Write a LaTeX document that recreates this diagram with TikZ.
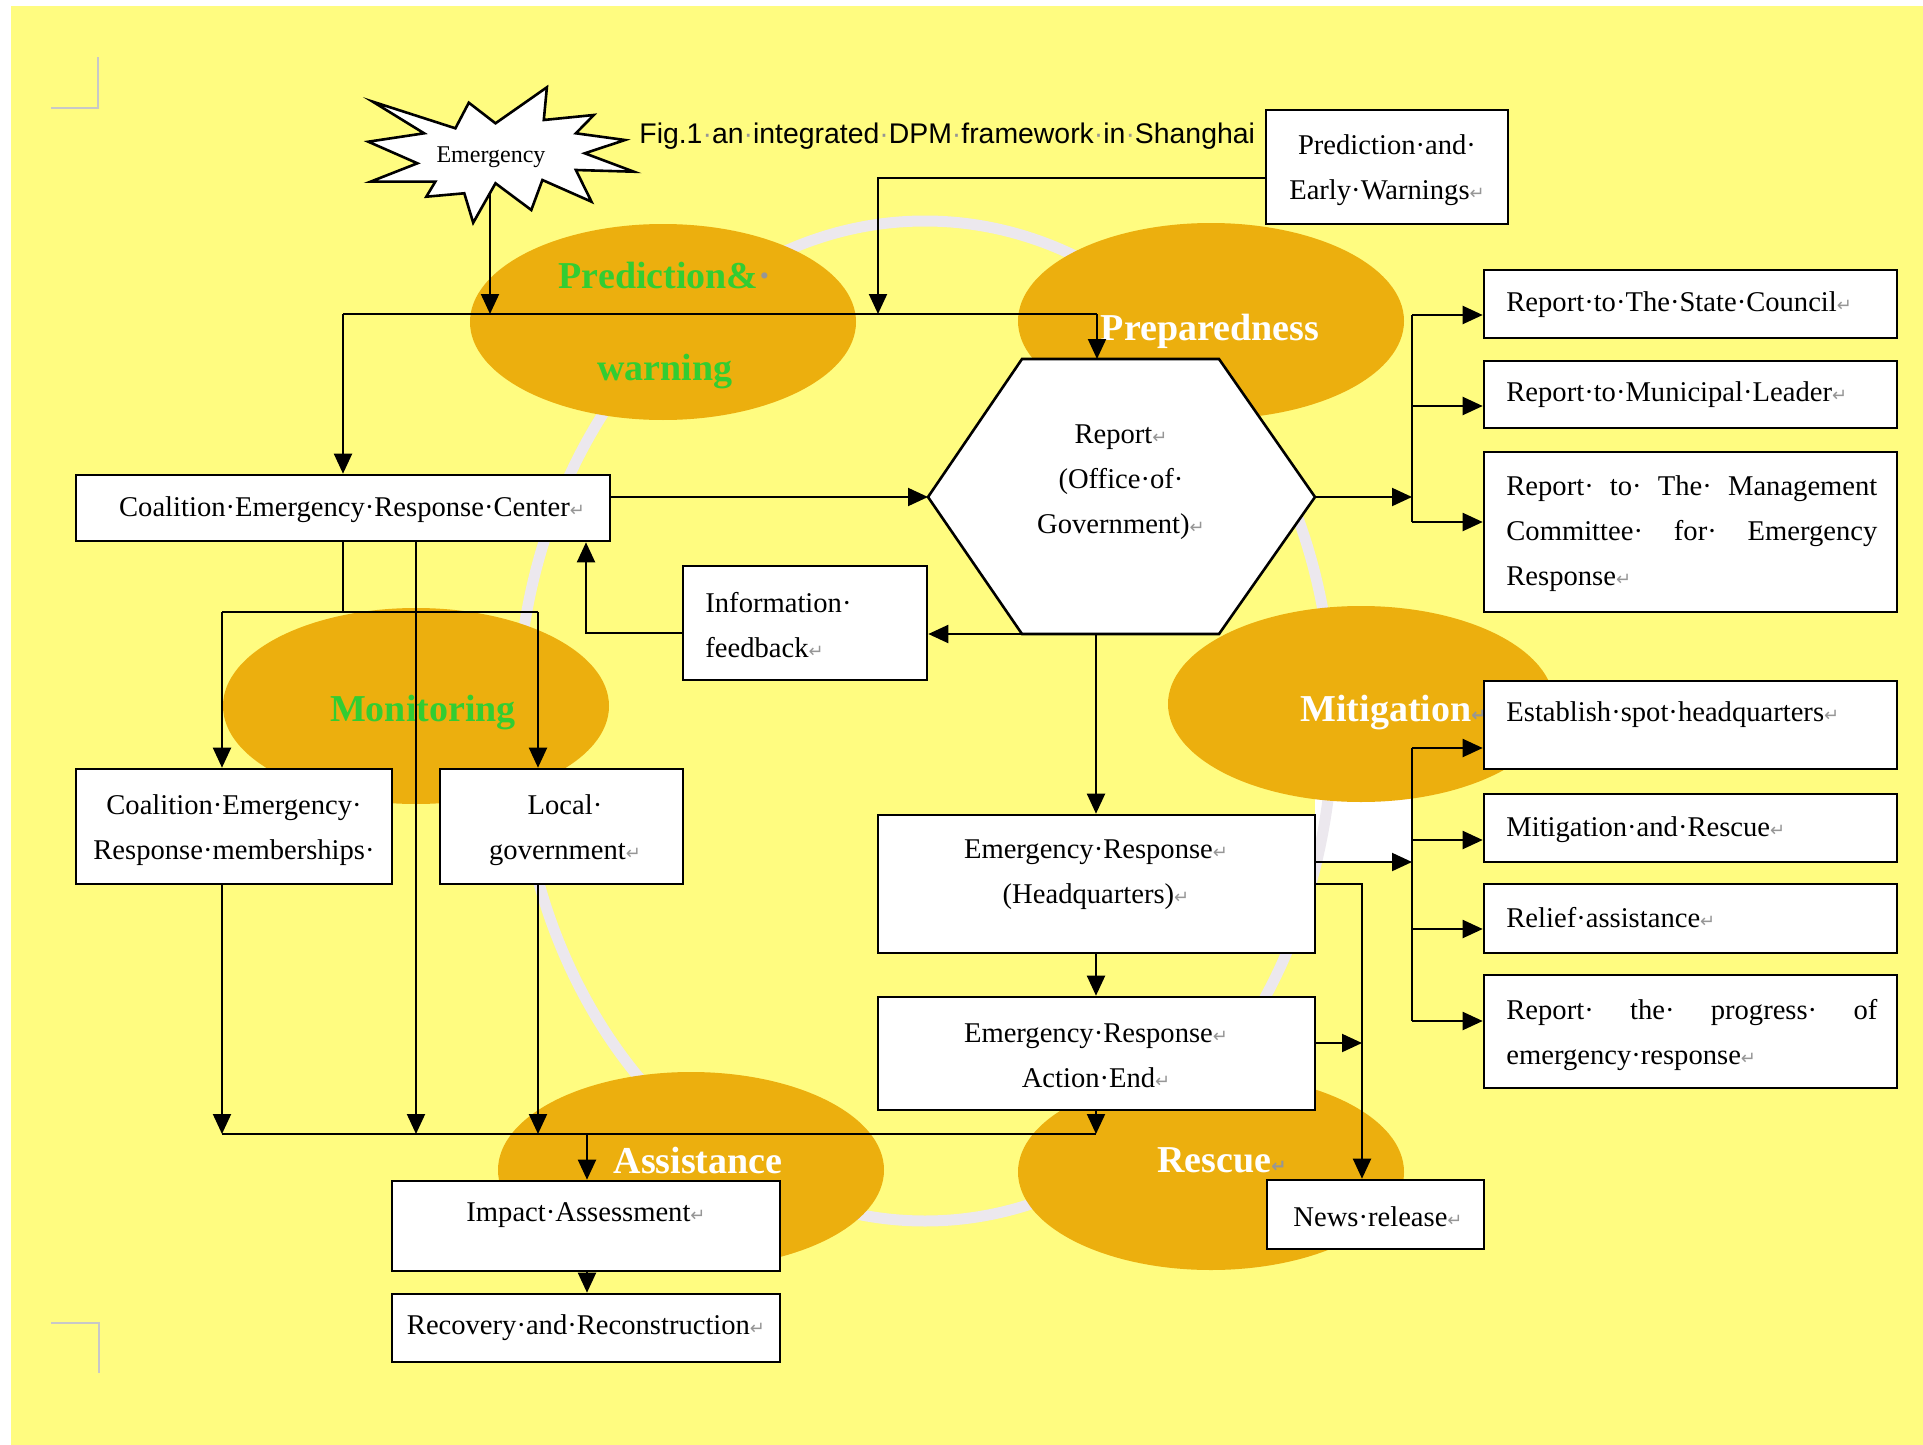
\documentclass[tikz,border=0pt]{standalone}
\usepackage{fontspec}
\setmainfont{Liberation Serif}
\newfontfamily\capfont{Liberation Sans}
\newfontfamily\symf{DejaVu Sans}
\usetikzlibrary{arrows.meta,shapes.geometric,fit}
\definecolor{bgyellow}{RGB}{255,252,128}
\definecolor{phase}{RGB}{236,175,14}
\definecolor{phasegreen}{RGB}{50,205,50}
\definecolor{ringgray}{RGB}{236,232,238}
\definecolor{markgray}{RGB}{150,150,150}
\definecolor{cropgray}{RGB}{200,200,200}
% paragraph mark and visible-space dot
\newcommand\pmk{{\symf\fontsize{9}{9}\selectfont\color{markgray}↵}}
\newcommand\gdot{{\color{markgray}·}}

\begin{document}
\begin{tikzpicture}[x=0.5pt,y=-0.5pt,
  boxline/.style={draw=black,line width=1.3pt,fill=white},
  bx/.style={boxline,inner sep=0pt},
  ln/.style={line width=1pt},
  arr/.style={line width=1pt,-{Triangle[length=10pt,width=9pt]}},
  txt/.style={font=\fontsize{14.3}{22.5}\selectfont,align=center,inner sep=0pt},
  ltxt/.style={txt,align=left,anchor=west},
  phasebg/.style={ellipse,fill=phase,minimum width=193pt,minimum height=98pt,inner sep=0pt},
  plab/.style={font=\bfseries\fontsize{19}{46}\selectfont,inner sep=0pt,align=center},
]
\useasboundingbox (0,0) rectangle (1923,1445);
\fill[white] (0,0) rectangle (1923,1445);
\fill[bgyellow] (11,6) rectangle (1923,1445);

% crop marks
\draw[cropgray,line width=1.2pt] (51,108) -- (98,108) -- (98,57);
\draw[cropgray,line width=1.2pt] (51,1323) -- (99,1323) -- (99,1373);

% white patch beside the headquarters box
\fill[white] (1315,780) rectangle (1412,862);

% cycle ring
\draw[ringgray,line width=5.5pt] (925,721) ellipse [x radius=204pt,y radius=250pt];

% phase ellipses
\node[phasebg] (ppw) at (663,322) {};
\node[phasebg] (pprep) at (1211,321) {};
\node[phasebg] (pmon) at (416,706) {};
\node[phasebg] (pmit) at (1361,704) {};
\node[phasebg] (pass) at (691,1170) {};
\node[phasebg] (pres) at (1211,1172) {};

% phase labels
\node[plab,text=phasegreen] (lpw) at (665,326) {Prediction\&\gdot\\warning};
\node[plab,text=white] (lprep) at (1210,331) {Preparedness};
\node[plab,text=phasegreen] (lmon) at (423,713) {Monitoring};
\node[plab,text=white,anchor=west] (lmit) at (1300,713) {Mitigation\pmk};
\node[plab,text=white] (lass) at (698,1160) {Assistance};
\node[plab,text=white,anchor=west] (lres) at (1157,1160) {Rescue\pmk};

% caption
\node[font=\capfont\fontsize{14.2}{17}\selectfont,anchor=base west,inner sep=0pt] (cap) at (639,144)
  {Fig.1\gdot an\gdot integrated\gdot DPM\gdot framework\gdot in\gdot Shanghai};

% emergency burst
\filldraw[fill=white,draw=black,line width=1.3pt,line join=miter]
  (372.8,101.7) -- (455.4,128.3) -- (468.8,102.7) -- (495.5,123.3) -- (546.9,87.3)
  -- (543.8,120) -- (593.8,115) -- (575.9,133.3) -- (625,140) -- (584.8,153.3)
  -- (633.9,171.7) -- (575.9,170) -- (591.5,201.7) -- (542.4,180) -- (531.3,210)
  -- (495.5,183.3) -- (473.2,222.7) -- (464.3,193.3) -- (426.3,196.7) -- (435.3,181.7)
  -- (370.5,181.7) -- (417.4,163.3) -- (368.3,141.7) -- (424.1,133.3) -- cycle;
\node[font=\fontsize{12}{14}\selectfont,inner sep=0pt] (emer) at (491,157) {Emergency};
\coordinate (starbot) at (490,193);

% boxes
\node[bx,fit={(1266,110) (1508,224)}] (pew) {};
\node[bx,fit={(1484,270) (1897,338)}] (rsc) {};
\node[bx,fit={(1484,361) (1897,428)}] (rml) {};
\node[bx,fit={(1484,452) (1897,612)}] (rmc) {};
\node[bx,fit={(1484,681) (1897,769)}] (esh) {};
\node[bx,fit={(1484,794) (1897,862)}] (mar) {};
\node[bx,fit={(1484,884) (1897,953)}] (rel) {};
\node[bx,fit={(1484,975) (1897,1088)}] (rpe) {};
\node[bx,fit={(76,475) (610,541)}] (cerc) {};
\node[bx,fit={(76,769) (392,884)}] (cerm) {};
\node[bx,fit={(440,769) (683,884)}] (lg) {};
\node[bx,fit={(683,566) (927,680)}] (info) {};
\node[bx,fit={(878,815) (1315,953)}] (hq) {};
\node[bx,fit={(878,997) (1315,1110)}] (ae) {};
\node[bx,fit={(392,1181) (780,1271)}] (ia) {};
\node[bx,fit={(392,1294) (780,1362)}] (rr) {};
\node[bx,fit={(1267,1180) (1484,1249)}] (nr) {};

% report hexagon
\coordinate (hexW) at (928,497);
\coordinate (hexE) at (1315,497);
\coordinate (hexBL) at (1022,634);
\coordinate (hexB) at (1096,634);
\filldraw[boxline] (1022,359) -- (1219,359) -- (hexE) -- (1219,634) -- (hexBL) -- (hexW) -- cycle;

% box texts
\node[txt] (tpew) at (1387,170) {Prediction·and·\\Early·Warnings\pmk};
\node[ltxt] (trsc) at (1506,305) {Report·to·The·State·Council\pmk};
\node[ltxt] (trml) at (1506,395) {Report·to·Municipal·Leader\pmk};
\node[ltxt] (trmc) at (1506,534) {\makebox[185.5pt][s]{Report·\hfill to·\hfill The·\hfill Management}\\
  \makebox[185.5pt][s]{Committee·\hfill for·\hfill Emergency}\\Response\pmk};
\node[ltxt] (tesh) at (1506,715) {Establish·spot·headquarters\pmk};
\node[ltxt] (tmar) at (1506,830) {Mitigation·and·Rescue\pmk};
\node[ltxt] (trel) at (1506,918) {Relief·assistance\pmk};
\node[ltxt] (trpe) at (1506,1035) {\makebox[185.5pt][s]{Report·\hfill the·\hfill progress·\hfill of}\\
  emergency·response\pmk};
\node[txt] (tcerc) at (352,510) {Coalition·Emergency·Response·Center\pmk};
\node[txt] (tcerm) at (234,830) {Coalition·Emergency·\\Response·memberships·};
\node[txt] (tlg) at (565,830) {Local·\\government\pmk};
\node[ltxt] (tinfo) at (705,625) {Information·\\feedback\pmk};
\node[txt] (thex) at (1121,482) {Report\pmk\\(Office·of·\\Government)\pmk};
\node[txt] (thq) at (1096,875) {Emergency·Response\pmk\\(Headquarters)\pmk};
\node[txt] (tae) at (1096,1056) {Emergency·Response\pmk\\Action·End\pmk};
\node[txt] (tia) at (586,1215) {Impact·Assessment\pmk};
\node[txt] (trr) at (586,1328) {Recovery·and·Reconstruction\pmk};
\node[txt] (tnr) at (1378,1217) {News·release\pmk};

% junction points
\coordinate (tbL) at (343,314);
\coordinate (tbR) at (1097,314);
\coordinate (tbS) at (490,314);
\coordinate (tbP) at (878,314);
\coordinate (pewout) at (1266,178);
\coordinate (b1) at (1412,315);
\coordinate (b2) at (1412,406);
\coordinate (b3) at (1412,522);
\coordinate (c1) at (343,612);
\coordinate (m1) at (222,612);
\coordinate (m2) at (538,612);
\coordinate (infoout) at (683,633);
\coordinate (fbx) at (586,0);
\coordinate (busL) at (222,1134);
\coordinate (bus2) at (416,1134);
\coordinate (bus3) at (538,1134);
\coordinate (busIA) at (587,1134);
\coordinate (busR) at (1096,1134);
\coordinate (d0) at (1412,862);
\coordinate (d1) at (1412,748);
\coordinate (d2) at (1412,840);
\coordinate (d3) at (1412,929);
\coordinate (d4) at (1412,1021);
\coordinate (nrx) at (1362,884);
\coordinate (aeo) at (1362,1043);

% connectors: warning stage
\draw[ln] (tbL) -- (tbR);
\draw[arr] (starbot) -- (tbS);
\draw[arr] (pewout) -| (tbP);
\draw[arr] (tbL) -- (tbL |- cerc.north);
\draw[arr] (tbR) -- (tbR |- 0,359);

% connectors: reporting
\draw[arr] (cerc.east |- hexW) -- (hexW);
\draw[arr] (hexE) -- (hexE -| b1);
\draw[ln] (b1) -- (b3);
\draw[arr] (b1) -- (b1 -| rsc.west);
\draw[arr] (b2) -- (b2 -| rml.west);
\draw[arr] (b3) -- (b3 -| rmc.west);
\draw[arr] (hexBL) -- (hexBL -| info.east);
\draw[arr] (infoout) -| (fbx |- cerc.south);

% connectors: monitoring
\draw[ln] (c1 |- cerc.south) -- (c1);
\draw[ln] (m1) -- (m2);
\draw[arr] (m1) -- (m1 |- cerm.north);
\draw[arr] (m2) -- (m2 |- lg.north);
\draw[arr] (bus2 |- cerc.south) -- (bus2);
\draw[arr] (busL |- cerm.south) -- (busL);
\draw[arr] (bus3 |- lg.south) -- (bus3);

% connectors: response
\draw[arr] (hexB) -- (hexB |- hq.north);
\draw[arr] (hq.east |- d0) -- (d0);
\draw[ln] (d1) -- (d4);
\draw[arr] (d1) -- (d1 -| esh.west);
\draw[arr] (d2) -- (d2 -| mar.west);
\draw[arr] (d3) -- (d3 -| rel.west);
\draw[arr] (d4) -- (d4 -| rpe.west);
\draw[arr] (hq.east |- nrx) -- (nrx) -- (nrx |- nr.north);
\draw[arr] (hexB |- hq.south) -- (hexB |- ae.north);
\draw[arr] (ae.east |- aeo) -- (aeo);

% connectors: assistance
\draw[ln] (busL) -- (busR);
\draw[arr] (busR |- ae.south) -- (busR);
\draw[arr] (busIA) -- (busIA |- ia.north);
\draw[arr] (busIA |- ia.south) -- (busIA |- rr.north);
\end{tikzpicture}
\end{document}
